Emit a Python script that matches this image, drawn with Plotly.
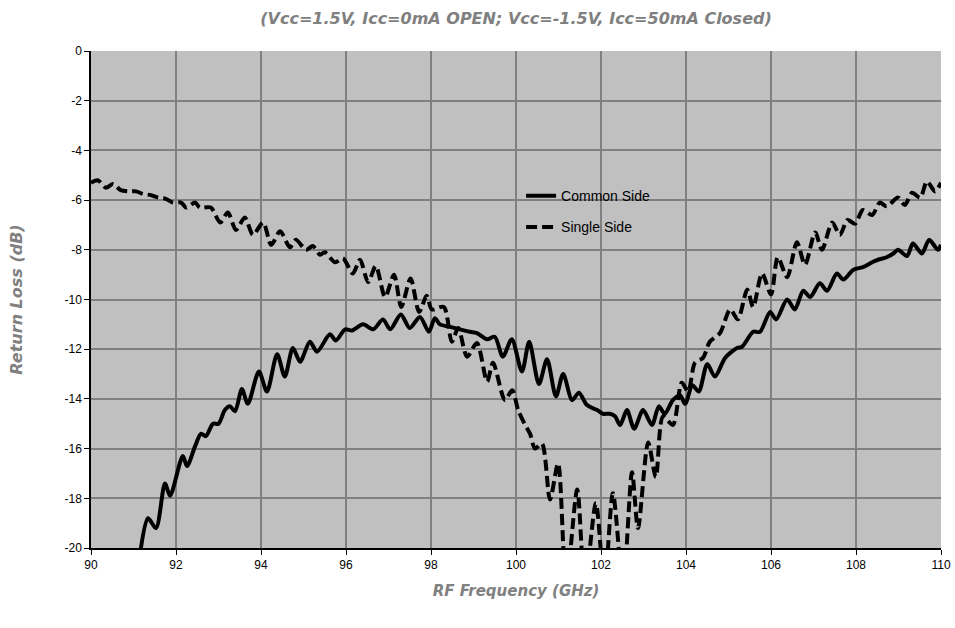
import plotly.graph_objects as go

# Common Side (solid)
common_freq = [91.10, 91.34, 91.53, 91.74, 91.86, 92.16, 92.26, 92.45, 92.59, 92.70,
               92.87, 93.00, 93.15, 93.27, 93.39, 93.55, 93.69, 93.95, 94.14, 94.38,
               94.56, 94.75, 94.92, 95.15, 95.32, 95.62, 95.76, 95.98, 96.14, 96.40,
               96.64, 96.87, 97.04, 97.29, 97.50, 97.74, 97.95, 98.09, 98.21, 98.45,
               98.68, 98.92, 99.08, 99.32, 99.50, 99.69, 99.90, 100.14, 100.31, 100.54,
               100.73, 100.94, 101.11, 101.32, 101.48, 101.67, 101.91, 102.05, 102.21, 102.33,
               102.45, 102.61, 102.78, 102.99, 103.20, 103.36, 103.50, 103.69, 103.86, 103.98,
               104.15, 104.30, 104.50, 104.68, 104.92, 105.20, 105.32, 105.58, 105.74, 105.98,
               106.12, 106.38, 106.56, 106.76, 106.92, 107.15, 107.32, 107.55, 107.70, 107.94,
               108.16, 108.38, 108.52, 108.72, 108.88, 108.99, 109.20, 109.34, 109.55, 109.72,
               109.93, 110.00]
common_rl = [-21.0, -18.8, -19.2, -17.4, -17.9, -16.3, -16.7, -15.9, -15.4, -15.5,
             -15.0, -15.0, -14.45, -14.3, -14.5, -13.6, -14.2, -12.9, -13.7, -12.2,
             -13.1, -11.95, -12.5, -11.7, -12.1, -11.4, -11.65, -11.2, -11.25, -11.0,
             -11.2, -10.8, -11.2, -10.6, -11.15, -10.7, -11.3, -10.75, -11.0, -11.1,
             -11.2, -11.3, -11.35, -11.6, -11.5, -12.3, -11.6, -12.9, -11.7, -13.4,
             -12.4, -13.9, -13.0, -14.05, -13.75, -14.25, -14.45, -14.6, -14.6, -14.7,
             -15.05, -14.45, -15.2, -14.45, -15.05, -14.3, -14.6, -14.05, -13.85, -14.2,
             -13.45, -13.7, -12.6, -13.1, -12.35, -11.95, -11.9, -11.3, -11.3, -10.5,
             -10.8, -10.0, -10.4, -9.65, -9.9, -9.35, -9.65, -8.95, -9.2, -8.8,
             -8.7, -8.5, -8.4, -8.3, -8.15, -8.0, -8.25, -7.75, -8.15, -7.6,
             -8.0, -7.8]

# Single Side (dashed)
single_freq = [90.00, 90.16, 90.35, 90.52, 90.70, 90.87, 91.06, 91.22, 91.41, 91.58,
               91.76, 91.93, 92.12, 92.24, 92.45, 92.56, 92.82, 93.04, 93.22, 93.41,
               93.62, 93.81, 94.05, 94.24, 94.45, 94.68, 94.82, 95.06, 95.22, 95.39,
               95.50, 95.74, 95.93, 96.16, 96.33, 96.52, 96.70, 96.92, 97.13, 97.30,
               97.52, 97.72, 97.90, 98.02, 98.30, 98.49, 98.64, 98.85, 99.08, 99.32,
               99.46, 99.74, 99.91, 100.05, 100.20, 100.33, 100.45, 100.61, 100.80, 100.99,
               101.18, 101.44, 101.62, 101.88, 102.08, 102.28, 102.52, 102.73, 102.87, 103.11,
               103.29, 103.46, 103.69, 103.90, 104.05, 104.21, 104.40, 104.56, 104.80, 105.04,
               105.22, 105.44, 105.58, 105.79, 106.00, 106.16, 106.38, 106.61, 106.80, 107.04,
               107.20, 107.44, 107.62, 107.80, 107.98, 108.16, 108.38, 108.56, 108.72, 108.99,
               109.15, 109.32, 109.51, 109.67, 109.86, 110.00]
single_rl = [-5.3, -5.2, -5.5, -5.35, -5.6, -5.65, -5.65, -5.75, -5.8, -5.9,
             -5.95, -6.1, -6.1, -6.3, -6.1, -6.3, -6.3, -6.9, -6.5, -7.2,
             -6.7, -7.4, -6.9, -7.8, -7.25, -7.9, -7.6, -8.0, -7.85, -8.2,
             -8.1, -8.5, -8.35, -8.95, -8.4, -9.3, -8.65, -9.9, -9.0, -10.3,
             -9.15, -10.5, -9.85, -10.4, -10.3, -11.7, -11.15, -12.3, -11.75, -13.3,
             -12.55, -14.05, -13.65, -14.45, -15.0, -15.4, -16.0, -15.8, -18.05, -16.6,
             -21.5, -17.65, -21.5, -18.2, -21.5, -17.8, -21.5, -16.95, -19.2, -15.75,
             -17.15, -14.7, -15.05, -13.35, -13.7, -12.55, -12.35, -11.7, -11.35, -10.4,
             -10.8, -9.6, -10.3, -8.95, -9.8, -8.3, -9.1, -7.7, -8.6, -7.3,
             -8.0, -6.9, -7.4, -6.8, -6.95, -6.4, -6.6, -6.1, -6.25, -5.9,
             -6.2, -5.7, -5.9, -5.25, -5.65, -5.3]

x_ticks = [90, 92, 94, 96, 98, 100, 102, 104, 106, 108, 110]
y_ticks = [0, -2, -4, -6, -8, -10, -12, -14, -16, -18, -20]
y_tick_labels = ["0", "-2", "-4", "-6", "-8", "-10", "-12", "-14", "-16", "-18", "-20"]

FONT = "Liberation Sans, Arial, sans-serif"
TFONT = "DejaVu Sans, Liberation Sans, sans-serif"
GRAY = "#808080"

fig = go.Figure()
fig.add_trace(go.Scatter(
    x=common_freq, y=common_rl, mode="lines", name="Common Side",
    legendgroup="a",
    line=dict(color="black", width=4, shape="spline", smoothing=0.8)))
fig.add_trace(go.Scatter(
    x=single_freq, y=single_rl, mode="lines", name="Single Side",
    legendgroup="b",
    line=dict(color="black", width=4, dash="11px,5px", shape="spline", smoothing=0.8)))

fig.update_layout(
    width=955, height=628,
    margin=dict(l=91, r=14, t=51, b=80, autoexpand=False),
    paper_bgcolor="white",
    plot_bgcolor="#c0c0c0",
    font=dict(family=FONT, size=12, color="black"),
    title=dict(
        text="(Vcc=1.5V, Icc=0mA OPEN; Vcc=-1.5V, Icc=50mA Closed)",
        xref="paper", x=0.5, xanchor="center", y=0.971, yanchor="middle",
        font=dict(family=TFONT, size=16, color=GRAY, weight="bold", style="italic")),
    legend=dict(
        x=0.506, xanchor="left", y=0.74, yanchor="top",
        bgcolor="rgba(0,0,0,0)", borderwidth=0,
        tracegroupgap=10,
        font=dict(family=FONT, size=14, color="black")),
    xaxis=dict(
        range=[90, 110], tickvals=x_ticks, automargin=False,
        showgrid=True, gridcolor=GRAY, gridwidth=1.5,
        showline=True, linecolor="black", linewidth=1.5,
        ticks="outside", ticklen=5, tickcolor="black",
        zeroline=False, mirror=False,
        title=dict(text="RF Frequency (GHz)", standoff=14,
                   font=dict(family=TFONT, size=15, color=GRAY, weight="bold", style="italic"))),
    yaxis=dict(
        range=[-20, 0], tickvals=y_ticks, ticktext=y_tick_labels, automargin=False,
        showgrid=True, gridcolor=GRAY, gridwidth=1.5,
        showline=True, linecolor="black", linewidth=1.5,
        ticks="outside", ticklen=5, tickcolor="black",
        zeroline=False,
        title=dict(text="Return Loss (dB)", standoff=38,
                   font=dict(family=TFONT, size=16, color=GRAY, weight="bold", style="italic"))),
)

fig.write_html("out.html",
               config={"displayModeBar": False},
               post_script="document.body.style.margin='0';document.body.style.overflow='hidden';")
